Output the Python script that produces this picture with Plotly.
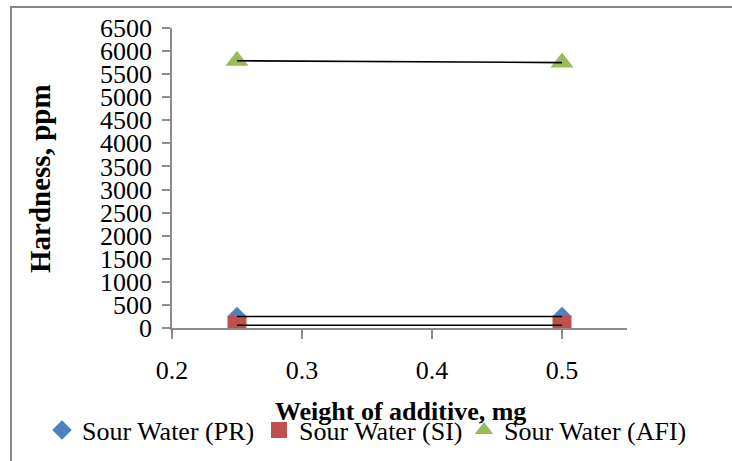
import plotly.graph_objects as go

weights = [0.25, 0.5]
pr = [250, 250]
si = [60, 60]
afi = [5790, 5750]

series_names = ["Sour Water (PR)", "Sour Water (SI)", "Sour Water (AFI)"]
series_vals = [pr, si, afi]
colors = ["#4F81BD", "#C0504D", "#9BBB59"]
symbols = ["diamond", "square", "triangle-up"]
sizes = [15, 19, 20]

yticks = list(range(0, 6501, 500))
xticks = [0.2, 0.3, 0.4, 0.5]

FONT = "Liberation Serif"
W, H = 732, 461
L, R, T, B = 172, 105, 28, 133
pw, ph = W - L - R, H - T - B

def px_x(p):
    return (p - L) / pw

def px_y(p):
    return (H - B - p) / ph

legend_ids = ["legend", "legend2", "legend3"]
legend_px = [42, 259, 464]

fig = go.Figure()
for name, vals, c, s, sz, lid in zip(series_names, series_vals, colors, symbols, sizes, legend_ids):
    fig.add_trace(go.Scatter(x=weights, y=vals, mode="markers", name=name, legend=lid,
                             marker=dict(color=c, symbol=s, size=sz, line=dict(width=0))))
for vals in series_vals:
    fig.add_trace(go.Scatter(x=weights, y=vals, mode="lines", showlegend=False,
                             line=dict(color="black", width=1.6), hoverinfo="skip"))

legend_layout = {}
for lid, lx in zip(legend_ids, legend_px):
    legend_layout[lid] = dict(orientation="h", xref="container", yref="container",
                              x=lx / W, y=(H - 430) / H, xanchor="left", yanchor="middle",
                              font=dict(size=26, family=FONT), itemsizing="trace",
                              bgcolor="rgba(0,0,0,0)")

fig.update_layout(
    width=W, height=H,
    margin=dict(l=L, r=R, t=T, b=B, autoexpand=False),
    paper_bgcolor="white", plot_bgcolor="white",
    font=dict(family=FONT, size=26, color="black"),
    xaxis=dict(range=[0.2, 0.55], tickvals=xticks, ticktext=[str(v) for v in xticks],
               showgrid=False, zeroline=False, showline=True, linecolor="#8c8c8c", linewidth=1.5,
               ticks="outside", ticklen=9, tickcolor="#8c8c8c", tickwidth=1.5,
               ticklabelstandoff=9, tickfont=dict(size=26), automargin=False),
    yaxis=dict(range=[0, 6500], tickvals=yticks, ticktext=[str(v) for v in yticks],
               showgrid=False, zeroline=False, showline=True, linecolor="#8c8c8c", linewidth=1.5,
               ticks="outside", ticklen=8, tickcolor="#8c8c8c", tickwidth=1.5,
               ticklabelstandoff=5, tickfont=dict(size=26), automargin=False),
    showlegend=True,
    **legend_layout,
)

fig.add_annotation(text="<b>Hardness, ppm</b>", x=px_x(40), y=px_y(179), xref="paper", yref="paper",
                   xanchor="center", yanchor="middle",
                   textangle=-90, showarrow=False, font=dict(size=29, family=FONT))
fig.add_annotation(text="<b>Weight of additive, mg</b>", x=px_x(400), y=px_y(411), xref="paper", yref="paper",
                   xanchor="center", yanchor="middle",
                   showarrow=False, font=dict(size=26, family=FONT))

fig.add_shape(type="rect", xref="paper", yref="paper", x0=px_x(11), x1=px_x(760), y0=px_y(490), y1=px_y(7),
              line=dict(color="#888888", width=2), fillcolor="rgba(0,0,0,0)", layer="below")

fig.write_html("out.html")
